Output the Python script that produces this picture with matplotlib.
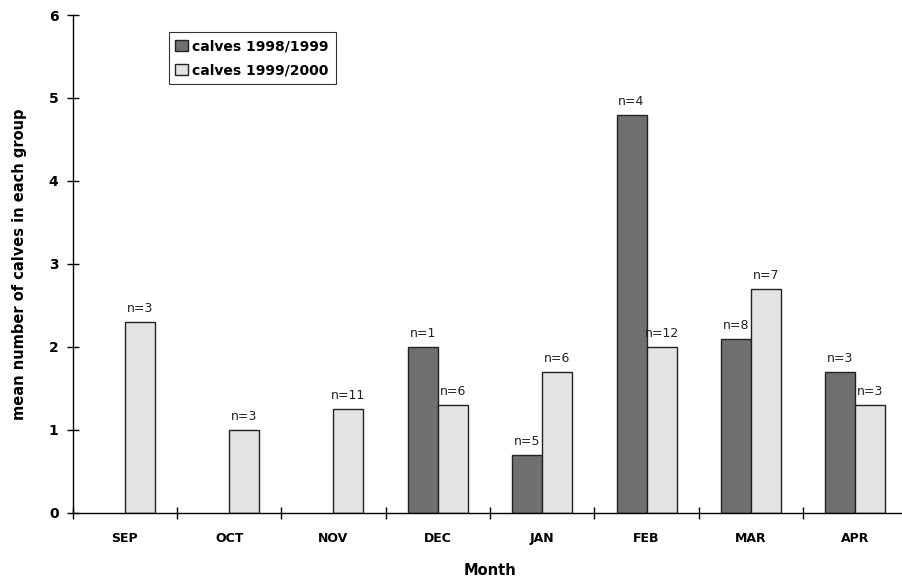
import numpy as np
import matplotlib.pyplot as plt
from matplotlib.patches import Patch

months = ["SEP", "OCT", "NOV", "DEC", "JAN", "FEB", "MAR", "APR"]
calves_9899 = [np.nan, np.nan, np.nan, 2.0, 0.7, 4.8, 2.1, 1.7]
calves_9900 = [2.3, 1.0, 1.25, 1.3, 1.7, 2.0, 2.7, 1.3]
n_9899 = ["", "", "", "n=1", "n=5", "n=4", "n=8", "n=3"]
n_9900 = ["n=3", "n=3", "n=11", "n=6", "n=6", "n=12", "n=7", "n=3"]

dark = "#707070"
light = "#e3e3e3"

fig = plt.figure(figsize=(9.02, 5.83), dpi=100)
ax = fig.add_axes([72.5 / 902, 70.3 / 583, 835 / 902, 497.7 / 583])

x = np.arange(len(months))
w = 0.288

# bars
ax.bar(x - w / 2, calves_9899, w, color=dark, edgecolor="#222222", linewidth=1.0)
ax.bar(x + w / 2, calves_9900, w, color=light, edgecolor="#222222", linewidth=1.0)

# n= labels above the bars
for i in range(len(months)):
    if not np.isnan(calves_9899[i]):
        ax.annotate(n_9899[i], (x[i] - w / 2, calves_9899[i]), xytext=(0, 5),
                    textcoords="offset points", ha="center", va="bottom",
                    fontsize=9, color="#222222")
    ax.annotate(n_9900[i], (x[i] + w / 2, calves_9900[i]), xytext=(0, 5),
                textcoords="offset points", ha="center", va="bottom",
                fontsize=9, color="#222222")

ax.set_xlim(-0.5, 7.5)
ax.set_ylim(0, 6)

# axes styling
for s in ["top", "right"]:
    ax.spines[s].set_visible(False)
ax.spines["left"].set_linewidth(1.0)
ax.spines["bottom"].set_linewidth(1.0)

ax.set_xticks(x)
ax.set_xticklabels(months, fontweight="bold", fontsize=9)
ax.set_xticks(np.arange(-0.5, 8, 1), minor=True)
ax.tick_params(axis="x", which="major", length=0, pad=14)
ax.tick_params(axis="x", which="minor", direction="inout", length=9, width=1)

ax.set_yticks(range(7))
ax.set_yticklabels([str(v) for v in range(7)], fontweight="bold", fontsize=10)
ax.tick_params(axis="y", direction="inout", length=8, width=1, pad=6)

ax.set_xlabel("Month", fontweight="bold", fontsize=10.5, labelpad=13)
ax.set_ylabel("mean number of calves in each group", fontweight="bold",
              fontsize=10.5, labelpad=16)

# legend
handles = [Patch(facecolor=dark, edgecolor="#222222", label="calves 1998/1999"),
           Patch(facecolor=light, edgecolor="#222222", label="calves 1999/2000")]
leg = ax.legend(handles=handles, loc="upper left", bbox_to_anchor=(0.115, 0.965),
                frameon=True, fancybox=False, edgecolor="black",
                prop={"weight": "bold", "size": 10},
                handlelength=0.9, handleheight=0.9, handletextpad=0.3,
                borderpad=0.5, labelspacing=0.7, borderaxespad=0)
leg.get_frame().set_linewidth(0.8)

fig.savefig("out.png", dpi=100)
